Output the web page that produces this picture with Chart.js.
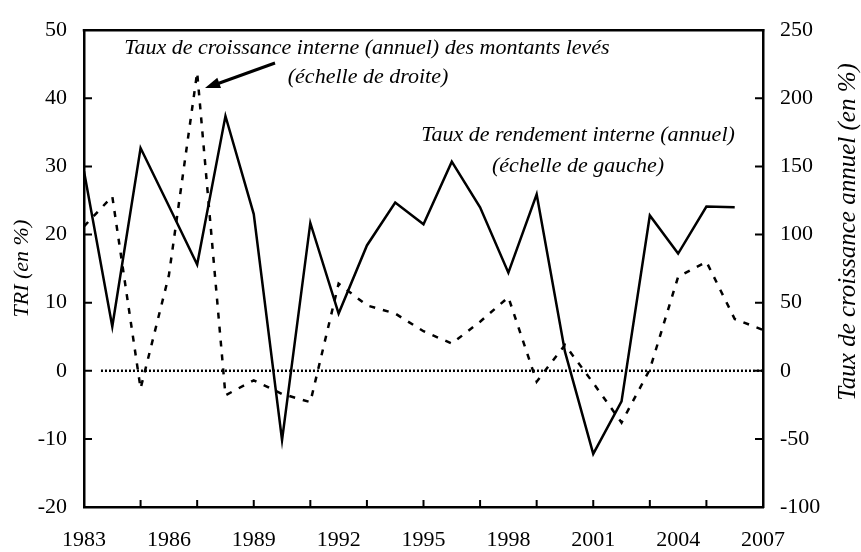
<!DOCTYPE html>
<html>
<head>
<meta charset="utf-8">
<script src="https://cdn.jsdelivr.net/npm/chart.js@4"></script>
<style>
  html, body { margin: 0; padding: 0; background: #fff; }
  #wrap { width: 861px; height: 552px; }
</style>
</head>
<body>
<div id="wrap"><canvas id="chart" width="861" height="552"></canvas></div>
<script>
'use strict';

// annees
var years = [1983, 1984, 1985, 1986, 1987, 1988, 1989, 1990, 1991, 1992, 1993, 1994, 1995,
             1996, 1997, 1998, 1999, 2000, 2001, 2002, 2003, 2004, 2005, 2006, 2007];

// TRI annuel (echelle de gauche)
var tri = [29.3, 6.5, 32.7, 24.2, 15.6, 37.4, 23.0, -10.2, 21.7, 8.4, 18.4, 24.7, 21.5,
           30.7, 24.0, 14.4, 25.9, 2.8, -12.2, -4.5, 22.8, 17.2, 24.1, 24.0, null];

// taux de croissance des montants leves (echelle de droite)
var croissance = [106, 128, -13, 70, 219, -18, -7, -17, -23, 64, 48, 42, 29,
                  20, 36, 54, -8, 19, -9, -38, 1, 69, 80, 38, 30];

// ligne du zero
var zeroYears = [1983.6, 2007];
var zeroValues = [0, 0];

var yearLabels = [1983, 1986, 1989, 1992, 1995, 1998, 2001, 2004, 2007];
var tickYears = [1985, 1987, 1989, 1991, 1993, 1995, 1997, 1999, 2001, 2003, 2005];
var leftTicks = [-20, -10, 0, 10, 20, 30, 40, 50];
var rightTicks = [-100, -50, 0, 50, 100, 150, 200, 250];

var serif = "'Liberation Serif', 'Times New Roman', serif";

function toPoints(xs, ys) {
  return xs.map(function (x, i) { return { x: x, y: ys[i] }; });
}

var extras = {
  id: 'extras',
  afterDraw: function (chart) {
    var ctx = chart.ctx;
    var area = chart.chartArea;
    var x = chart.scales.x, yL = chart.scales.yL, yR = chart.scales.yR;
    ctx.save();
    ctx.strokeStyle = '#000';
    ctx.fillStyle = '#000';
    ctx.lineWidth = 2.5;

    // cadre du haut
    ctx.beginPath();
    ctx.moveTo(area.left - 1.25, area.top);
    ctx.lineTo(area.right + 1.25, area.top);
    ctx.stroke();

    // graduations interieures
    ctx.lineWidth = 2;
    ctx.beginPath();
    leftTicks.slice(1, -1).forEach(function (v) {
      var py = yL.getPixelForValue(v);
      ctx.moveTo(area.left, py); ctx.lineTo(area.left + 8, py);
    });
    rightTicks.slice(1, -1).forEach(function (v) {
      var py = yR.getPixelForValue(v);
      ctx.moveTo(area.right, py); ctx.lineTo(area.right - 8, py);
    });
    tickYears.forEach(function (v) {
      var px = x.getPixelForValue(v);
      ctx.moveTo(px, area.bottom); ctx.lineTo(px, area.bottom - 7);
    });
    ctx.stroke();

    // titres des axes
    ctx.textAlign = 'center';
    ctx.textBaseline = 'middle';
    ctx.font = 'italic 22px ' + serif;
    ctx.save();
    ctx.translate(22, (area.top + area.bottom) / 2);
    ctx.rotate(-Math.PI / 2);
    ctx.fillText('TRI (en %)', 0, 0);
    ctx.restore();
    ctx.font = 'italic 25px ' + serif;
    ctx.save();
    ctx.translate(848, 232);
    ctx.rotate(-Math.PI / 2);
    ctx.fillText('Taux de croissance annuel (en %)', 0, 0);
    ctx.restore();

    // annotations
    ctx.font = 'italic 22px ' + serif;
    ctx.fillText('Taux de croissance interne (annuel) des montants levés', 367, 48);
    ctx.fillText('(échelle de droite)', 368, 77);
    ctx.fillText('Taux de rendement interne (annuel)', 578, 135);
    ctx.fillText('(échelle de gauche)', 578, 166);

    // fleche
    ctx.lineWidth = 3;
    ctx.beginPath();
    ctx.moveTo(275, 63);
    ctx.lineTo(214, 85);
    ctx.stroke();
    var ang = Math.atan2(88 - 63, 205 - 275);
    ctx.beginPath();
    ctx.moveTo(205, 88);
    ctx.lineTo(205 - 16 * Math.cos(ang - 0.35), 88 - 16 * Math.sin(ang - 0.35));
    ctx.lineTo(205 - 16 * Math.cos(ang + 0.35), 88 - 16 * Math.sin(ang + 0.35));
    ctx.closePath();
    ctx.fill();

    ctx.restore();
  }
};

var tickFont = { family: serif, size: 22 };

var chart = new Chart(document.getElementById('chart'), {
  type: 'line',
  data: {
    datasets: [
      {
        label: 'TRI',
        data: toPoints(years, tri),
        yAxisID: 'yL',
        borderColor: '#000',
        borderWidth: 2.5,
        pointRadius: 0,
        tension: 0,
        spanGaps: false
      },
      {
        label: 'Croissance',
        data: toPoints(years, croissance),
        yAxisID: 'yR',
        borderColor: '#000',
        borderWidth: 2.5,
        borderDash: [6, 8],
        pointRadius: 0,
        tension: 0
      },
      {
        label: 'Zero',
        data: toPoints(zeroYears, zeroValues),
        yAxisID: 'yL',
        borderColor: '#000',
        borderWidth: 2.5,
        borderDash: [2, 2],
        pointRadius: 0
      }
    ]
  },
  options: {
    responsive: false,
    animation: false,
    devicePixelRatio: 1,
    layout: { padding: { top: 22, left: 0, right: 0, bottom: 0 } },
    plugins: {
      legend: { display: false },
      tooltip: { enabled: false }
    },
    scales: {
      x: {
        type: 'linear',
        position: 'bottom',
        min: 1983,
        max: 2007,
        grid: { display: false, drawTicks: false },
        border: { display: true, color: '#000', width: 2.5 },
        afterBuildTicks: function (s) { s.ticks = yearLabels.map(function (v) { return { value: v }; }); },
        afterFit: function (s) { s.height = 45; },
        ticks: {
          color: '#000',
          font: tickFont,
          padding: 20,
          maxRotation: 0,
          autoSkip: false,
          callback: function (v) { return String(v); }
        }
      },
      yL: {
        type: 'linear',
        position: 'left',
        min: -20,
        max: 50,
        grid: { display: false, drawTicks: false },
        border: { display: true, color: '#000', width: 2.5 },
        afterBuildTicks: function (s) { s.ticks = leftTicks.map(function (v) { return { value: v }; }); },
        afterFit: function (s) { s.width = 84; },
        ticks: { color: '#000', font: tickFont, padding: 17 }
      },
      yR: {
        type: 'linear',
        position: 'right',
        min: -100,
        max: 250,
        grid: { display: false, drawTicks: false },
        border: { display: true, color: '#000', width: 2.5 },
        afterBuildTicks: function (s) { s.ticks = rightTicks.map(function (v) { return { value: v }; }); },
        afterFit: function (s) { s.width = 98; },
        ticks: { color: '#000', font: tickFont, padding: 17 }
      }
    }
  },
  plugins: [extras]
});
</script>
</body>
</html>
